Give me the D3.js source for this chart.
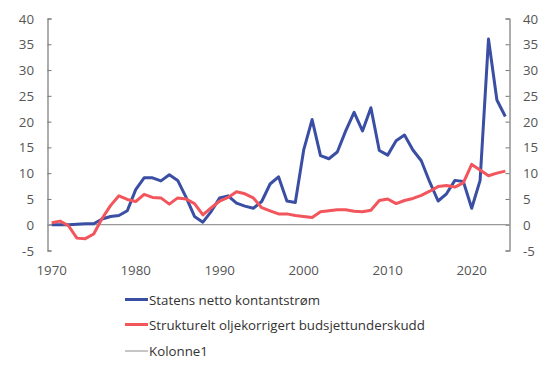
<!DOCTYPE html>
<html>
<head>
<meta charset="utf-8">
<script src="https://cdn.jsdelivr.net/npm/d3@7"></script>
<style>
  body { margin: 0; background: #fff; }
  text { font-family: "Open Sans", sans-serif; }
</style>
</head>
<body>
<div id="chart"></div>
<script>
const WIDTH = 560
const HEIGHT = 367

const years = d3.range(1970, 2025)
const kontantstrom = [
    0, 0, 0, 0.1, 0.2, 0.2, 1.1, 1.6, 1.8, 2.7,
    6.8, 9.1, 9.1, 8.5, 9.7, 8.6, 5.3, 1.6, 0.5, 2.6,
    5.2, 5.6, 4.2, 3.6, 3.2, 4.5, 7.9, 9.3, 4.6, 4.3,
    14.5, 20.4, 13.4, 12.8, 14.1, 18.2, 21.8, 18.2, 22.7, 14.4,
    13.5, 16.3, 17.4, 14.5, 12.4, 8.3, 4.6, 6.0, 8.6, 8.4,
    3.2, 8.6, 36.0, 24.2, 21.0
]
const underskudd = [
    0.4, 0.7, -0.2, -2.6, -2.7, -1.8, 1.2, 3.7, 5.6, 4.9,
    4.5, 5.9, 5.3, 5.2, 4.0, 5.2, 5.0, 4.1, 1.9, 3.3,
    4.6, 5.3, 6.4, 6.0, 5.2, 3.3, 2.7, 2.1, 2.1, 1.8,
    1.6, 1.4, 2.5, 2.7, 2.9, 2.9, 2.6, 2.5, 2.8, 4.7,
    5.0, 4.1, 4.7, 5.1, 5.7, 6.5, 7.4, 7.6, 7.3, 8.1,
    11.7, 10.6, 9.5, 10.0, 10.4
]
const yTicks = [-5, 0, 5, 10, 15, 20, 25, 30, 35, 40]
const xTicks = [1970, 1980, 1990, 2000, 2010, 2020]
const seriesNames = ["Statens netto kontantstrøm", "Strukturelt oljekorrigert budsjettunderskudd", "Kolonne1"]
const seriesColors = ["#3a4ea3", "#f2555b", "#a0a0a0"]

const svg = d3.select("#chart")
    .append("svg")
    .attr("width", WIDTH)
    .attr("height", HEIGHT)

const left = 47.5, right = 509.5
const x = d3.scaleLinear().domain([1969.5, 2024.5]).range([left, right])
const y = d3.scaleLinear().domain([-5, 40]).range([250.5, 18.5])

// axes, ticks pointing into the plot
const yLeft = svg.append("g")
    .attr("transform", `translate(${left},0)`)
    .call(d3.axisRight(y).tickValues(yTicks).tickSize(4).tickFormat(""))
const yRight = svg.append("g")
    .attr("transform", `translate(${right},0)`)
    .call(d3.axisLeft(y).tickValues(yTicks).tickSize(4).tickFormat(""))
for (const g of [yLeft, yRight]) {
    g.select(".domain").attr("stroke", "#777").attr("stroke-width", 1.2)
    g.selectAll(".tick line").attr("stroke", "#777")
}

svg.selectAll(".ylab-l")
    .data(yTicks)
    .enter().append("text")
    .attr("x", 34)
    .attr("y", d => y(d) + 5)
    .attr("text-anchor", "end")
    .attr("font-size", 13.3)
    .attr("fill", "#555")
    .text(d => d)

svg.selectAll(".ylab-r")
    .data(yTicks)
    .enter().append("text")
    .attr("x", 523)
    .attr("y", d => y(d) + 5)
    .attr("text-anchor", "start")
    .attr("font-size", 13.3)
    .attr("fill", "#555")
    .text(d => d)

svg.selectAll(".xlab")
    .data(xTicks)
    .enter().append("text")
    .attr("x", d => x(d))
    .attr("y", 275)
    .attr("text-anchor", "middle")
    .attr("font-size", 13.3)
    .attr("fill", "#555")
    .text(d => d)

// zero line
svg.append("line")
    .attr("x1", left).attr("x2", right)
    .attr("y1", y(0)).attr("y2", y(0))
    .attr("stroke", "#999")
    .attr("stroke-width", 1.2)

const line = d3.line()
    .x((d, i) => x(years[i]))
    .y(d => y(d))

svg.append("path")
    .datum(kontantstrom)
    .attr("d", line)
    .attr("fill", "none")
    .attr("stroke", seriesColors[0])
    .attr("stroke-width", 3)
    .attr("stroke-linejoin", "round")

svg.append("path")
    .datum(underskudd)
    .attr("d", line)
    .attr("fill", "none")
    .attr("stroke", seriesColors[1])
    .attr("stroke-width", 3)
    .attr("stroke-linejoin", "round")

// legend
const legend = svg.selectAll(".legend")
    .data(seriesNames)
    .enter().append("g")
    .attr("transform", (d, i) => `translate(125,${[299.5, 324.5, 351][i]})`)

legend.append("line")
    .attr("x1", 0).attr("x2", 23)
    .attr("stroke", (d, i) => seriesColors[i])
    .attr("stroke-width", (d, i) => i < 2 ? 3 : 1.2)

legend.append("text")
    .attr("x", 24)
    .attr("y", 5)
    .attr("font-size", 13.3)
    .attr("fill", "#333")
    .text(d => d)
</script>
</body>
</html>
